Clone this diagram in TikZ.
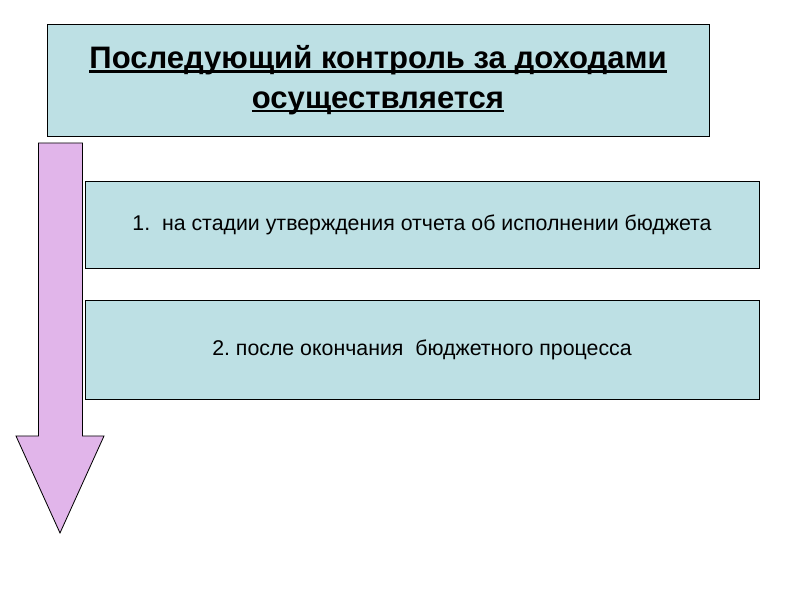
\documentclass[tikz,border=0pt]{standalone}
\usepackage{fontspec}
\setmainfont{Liberation Sans}
\usepackage{xcolor}
\definecolor{boxcyan}{RGB}{189,224,228}
\definecolor{arrowviolet}{RGB}{225,181,234}
\newcommand{\headline}[1]{\setbox0\hbox{#1}\rlap{\rule[-3.6pt]{\wd0}{1.9pt}}\box0}
\frenchspacing
\tikzset{
  x=0.03cm, y=-0.03cm,
  panel/.style={rectangle, draw=black, line width=0.8pt, fill=boxcyan, align=center},
  downarrow/.style={draw=black, line width=0.7pt, fill=arrowviolet}
}

\begin{document}
\begin{tikzpicture}
        \useasboundingbox (0,0) rectangle (800,600);
        \draw[downarrow] (38.5,143) -- (82.5,143) -- (82.5,436) -- (104,436)
          -- (60,533) -- (16,436) -- (38.5,436) -- cycle;

        \node[panel, minimum width=19.86cm, minimum height=3.36cm,
          font=\fontsize{26.5}{34}\selectfont\bfseries] (title) at (378,80)
          {\headline{Последующий контроль за доходами}\\\headline{осуществляется}};
        \node[panel, minimum width=20.22cm, minimum height=2.61cm,
          font=\fontsize{18.2}{22}\selectfont] (stage1) at (422,224.5)
          {1.\ \ на стадии утверждения отчета об исполнении бюджета};
        \node[panel, minimum width=20.22cm, minimum height=2.97cm,
          font=\fontsize{18.2}{22}\selectfont] (stage2) at (422,349.5)
          {2. после окончания\ \ бюджетного процесса};
      \end{tikzpicture}
\end{document}
